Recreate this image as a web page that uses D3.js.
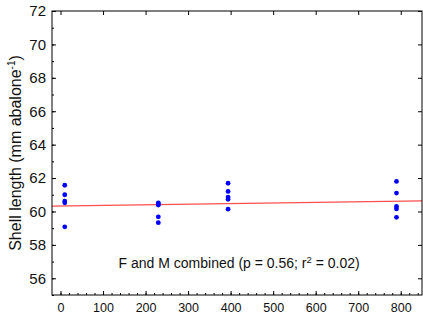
<!DOCTYPE html>
<html>
<head>
<meta charset="utf-8">
<script src="https://cdn.jsdelivr.net/npm/d3@7.9.0/dist/d3.min.js"></script>
<style>
  body { margin: 0; background: #fff; }
  svg { display: block; font-family: "Liberation Sans", Arial, sans-serif; }
</style>
</head>
<body>
<svg width="423" height="318"></svg>
<script>
// distance groups (x) and shell length readings (y)
const groupX = [10, 230, 394, 790];
const shellLength = [
  [61.57, 61.0, 60.62, 60.52, 59.08],
  [60.52, 60.45, 60.38, 59.68, 59.33],
  [61.69, 61.2, 60.86, 60.73, 60.14],
  [61.8, 61.1, 60.3, 60.15, 59.65],
];
// fitted line (intercept, slope)
const fitIntercept = 60.33;
const fitSlope = 0.00036;
const xTicks = [0, 100, 200, 300, 400, 500, 600, 700, 800];
const yTicks = [56, 58, 60, 62, 64, 66, 68, 70, 72];
const note = "F and M combined (p = 0.56; r";

const margin = { top: 11, right: 1, bottom: 23, left: 52 };
const width = 423, height = 318;
const svg = d3.select("svg");

let x = d3.scaleLinear().domain([-20, 850]).range([margin.left, width - margin.right]);
let y = d3.scaleLinear().domain([55, 72]).range([height - margin.bottom, margin.top]);

// points
let pts = [];
groupX.forEach((gx, i) => shellLength[i].forEach((v) => pts.push({ x: gx, y: v })));

// regression line
svg.append("line")
  .attr("x1", x(-20)).attr("y1", y(fitIntercept + fitSlope * -20))
  .attr("x2", x(850)).attr("y2", y(fitIntercept + fitSlope * 850))
  .attr("stroke", "#ff3030").attr("stroke-width", 1.1).attr("opacity", 0.85);

svg.selectAll("circle.pt").data(pts).enter().append("circle")
  .attr("class", "pt")
  .attr("cx", (d) => x(d.x)).attr("cy", (d) => y(d.y))
  .attr("r", 2.4).attr("fill", "#0000ff");

// axes: ticks point inwards
const bottom = height - margin.bottom, right = width - margin.right;
svg.append("g").attr("transform", `translate(0,${bottom})`)
  .call(d3.axisBottom(x).tickValues(d3.range(0, 851, 20)).tickSize(-2).tickFormat(""))
  .call((g) => g.select(".domain").remove());
svg.append("g").attr("transform", `translate(0,${bottom})`)
  .call(d3.axisBottom(x).tickValues(xTicks).tickSize(-4).tickPadding(8))
  .call((g) => g.select(".domain").remove())
  .call((g) => g.selectAll("text").attr("font-size", 12.5).attr("fill", "#111").attr("font-family", "Liberation Sans, Arial"));
svg.append("g").attr("transform", `translate(0,${margin.top})`)
  .call(d3.axisTop(x).tickValues(xTicks).tickSize(-4).tickFormat(""))
  .call((g) => g.select(".domain").remove());

svg.append("g").attr("transform", `translate(${margin.left},0)`)
  .call(d3.axisLeft(y).tickValues(d3.range(55, 72, 1)).tickSize(-2).tickFormat(""))
  .call((g) => g.select(".domain").remove());
svg.append("g").attr("transform", `translate(${margin.left},0)`)
  .call(d3.axisLeft(y).tickValues(yTicks).tickSize(-4).tickPadding(6))
  .call((g) => g.select(".domain").remove())
  .call((g) => g.selectAll("text").attr("font-size", 15).attr("fill", "#111").attr("font-family", "Liberation Sans, Arial"));
svg.append("g").attr("transform", `translate(${right},0)`)
  .call(d3.axisRight(y).tickValues(yTicks).tickSize(-4).tickFormat(""))
  .call((g) => g.select(".domain").remove());

svg.append("rect")
  .attr("x", margin.left).attr("y", margin.top)
  .attr("width", right - margin.left).attr("height", bottom - margin.top)
  .attr("fill", "none").attr("stroke", "#000").attr("stroke-width", 1);

// y title
let yt = svg.append("text")
  .attr("transform", `translate(21,${(margin.top + bottom) / 2}) rotate(-90)`)
  .attr("text-anchor", "middle").attr("font-size", 16).attr("fill", "#111");
yt.append("tspan").text("Shell length (mm abalone");
yt.append("tspan").attr("font-size", 10).attr("dy", -6).text("-1");
yt.append("tspan").attr("dy", 6).text(")");

// annotation
let nt = svg.append("text")
  .attr("x", x(420)).attr("y", 268)
  .attr("text-anchor", "middle").attr("font-size", 14).attr("fill", "#111");
nt.append("tspan").text(note);
nt.append("tspan").attr("font-size", 9.5).attr("dy", -5).text("2");
nt.append("tspan").attr("dy", 5).text(" = 0.02)");
</script>
</body>
</html>
